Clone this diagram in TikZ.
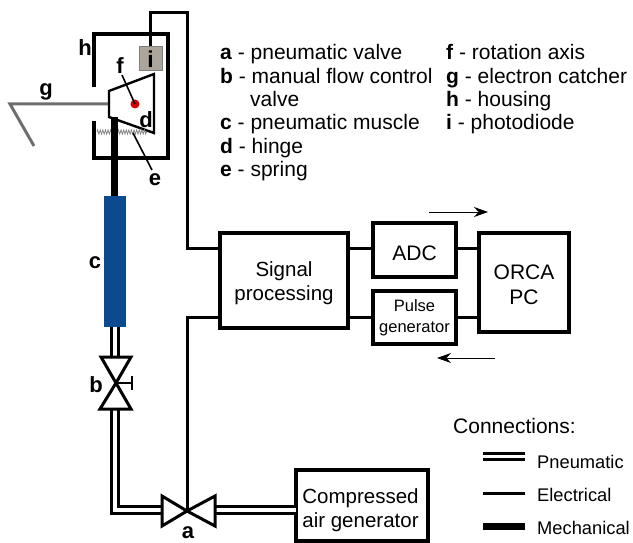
\documentclass[tikz,border=0pt]{standalone}
\usepackage{fontspec}
\setmainfont{Liberation Sans}
\usetikzlibrary{arrows.meta,decorations.pathmorphing}

\definecolor{musclecol}{HTML}{0B4A8E}
\definecolor{diodecol}{HTML}{ABA59C}
\definecolor{catchercol}{HTML}{6E6E6E}

\newcommand{\lift}[1]{\rule{0pt}{#1pt}}

\tikzset{
  blockbox/.style={draw, line width=3.2pt, inner sep=0pt, outer sep=0pt, align=center, font=\fontsize{20.5}{24}\selectfont},
  electrical/.style={line width=3pt},
  pneumatic/.style={draw=black, line width=3pt, double=white, double distance=3.1pt},
  mechanical/.style={line width=7pt},
  flowarrow/.style={line width=1pt, -{Stealth[length=14pt,width=10pt]}},
  valveline/.style={line width=3pt, line join=miter},
  partlabel/.style={inner sep=0pt, font=\fontsize{22}{24}\selectfont\bfseries},
  keytext/.style={inner sep=0pt, anchor=base west, font=\fontsize{21}{24}\selectfont},
  legendtext/.style={inner sep=0pt, anchor=base west, font=\fontsize{18.3}{22}\selectfont}
}

\begin{document}
\begin{tikzpicture}[x=1pt, y=-1pt]
  \useasboundingbox (0,0) rectangle (633,543);

  \node[blockbox, minimum width=128pt, minimum height=95pt] (signal) at (284,280.5) {\lift{21}Signal\\processing};
  \node[blockbox, minimum width=83pt, minimum height=54pt, font=\fontsize{21}{24}\selectfont] (adc) at (414.5,250) {\lift{21}ADC};
  \node[blockbox, minimum width=83pt, minimum height=53pt, font=\fontsize{16.5}{20.5}\selectfont] (pulse) at (414.5,317.5) {Pulse\\generator};
  \node[blockbox, minimum width=90pt, minimum height=99pt, font=\fontsize{21}{25}\selectfont] (orca) at (524,282.5) {\lift{20}ORCA\\PC};
  \node[blockbox, minimum width=132pt, minimum height=71pt] (compressor) at (362,505.5) {\lift{25}Compressed\hspace*{3pt}\\air generator\hspace*{3pt}};
  \node[draw=black!50, fill=diodecol, line width=1pt, minimum width=23pt, minimum height=24pt, inner sep=0pt, font=\fontsize{23}{24}\selectfont\bfseries] (photodiode) at (150.5,59) {i};
  \node[fill=musclecol, minimum width=22pt, minimum height=131pt, inner sep=0pt, outer sep=0pt] (muscle) at (115,261.5) {};

  \coordinate (wiretop) at (187,13);
  \coordinate (sigtop) at (220,248);
  \coordinate (sigbot) at (220,317);
  \coordinate (valvea) at (187,511);
  \coordinate (valveb) at (116,383);
  \coordinate (valvebin) at (115,357);
  \coordinate (valvebout) at (115,409);
  \coordinate (valveaout) at (162,510);
  \coordinate (valveain) at (215,510);
  \coordinate (armtop) at (114.5,117);

  % housing and rotating part
  \draw[line width=3.2pt] (94,87) -- (94,34) -- (168,34) -- (168,158) -- (94,158) -- (94,121);
  \draw[line width=2.4pt, line join=miter] (109,91) -- (154,74) -- (154,133) -- (109,117) -- cycle;
  \draw[catchercol, line width=3pt] (108,104) -- (10,104) -- (34,146);
  \draw[black!50, line width=0.7pt, decorate, decoration={zigzag, segment length=2.6pt, amplitude=2.2pt}] (97,132) -- (147,132);
  \fill[red!85!black] (135,104) circle (4.5);
  \draw[line width=1.6pt] (122,75) -- (135,104);
  \draw[line width=1.6pt] (133,133) -- (152,170);

  % connections
  \draw[electrical] (photodiode.north) |- (wiretop) |- (sigtop);
  \draw[electrical] (sigbot) -| (valvea);
  \draw[electrical] (signal.east |- sigtop) -- (adc.west |- sigtop);
  \draw[electrical] (signal.east |- sigbot) -- (pulse.west |- sigbot);
  \draw[electrical] (adc.east |- sigtop) -- (orca.west |- sigtop);
  \draw[electrical] (pulse.east |- sigbot) -- (orca.west |- sigbot);
  \draw[mechanical] (armtop) -- (armtop |- muscle.north);
  \draw[pneumatic] (muscle.south) -- (valvebin);
  \draw[pneumatic] (valvebout) |- (valveaout);
  \draw[pneumatic] (valveain) -- (valveain -| compressor.west);

  % valves
  \draw[valveline] (valveb) -- (101,357) -- (131,357) -- cycle;
  \draw[valveline] (valveb) -- (100,409) -- (131,409) -- cycle;
  \draw[valveline, line width=2.4pt] (valveb) -- (132,383) (132,376) -- (132,390);
  \draw[valveline] (valvea) -- (162,496) -- (162,526) -- cycle;
  \draw[valveline] (valvea) -- (215,496) -- (215,526) -- cycle;

  % part labels
  \node[partlabel] (labelh) at (85,48) {h};
  \node[partlabel] (labelf) at (120,66) {f};
  \node[partlabel] (labelg) at (46,92) {g};
  \node[partlabel] (labeld) at (146,120) {d};
  \node[partlabel] (labele) at (155,180) {e};
  \node[partlabel] (labelc) at (95,263) {c};
  \node[partlabel] (labelb) at (96,385) {b};
  \node[partlabel] (labela) at (188,533) {a};

  % key
  \foreach \name/\py/\letter/\words in {keya/60/a/pneumatic valve, keyb/83.5/b/manual flow control, keyc/130/c/pneumatic muscle, keyd/153.5/d/hinge, keye/177/e/spring}
    \node[keytext] (\name) at (220,\py) {\textbf{\letter} - \words};
  \node[keytext] (keyb2) at (250,107) {valve};
  \foreach \name/\py/\letter/\words in {keyf/60/f/rotation axis, keyg/83.5/g/electron catcher, keyh/107/h/housing, keyi/130/i/photodiode}
    \node[keytext] (\name) at (446,\py) {\textbf{\letter} - \words};

  % signal direction
  \coordinate (upstart) at (429,212);
  \coordinate (upend) at (488,212);
  \coordinate (downstart) at (495,358);
  \coordinate (downend) at (437,358);
  \draw[flowarrow] (upstart) -- (upend);
  \draw[flowarrow] (downstart) -- (downend);

  % legend
  \node[keytext] (legendtitle) at (453,433) {Connections:};
  \coordinate (pneuL) at (483,456.5);
  \coordinate (pneuR) at (525,456.5);
  \coordinate (elecL) at (483,493);
  \coordinate (elecR) at (525,493);
  \coordinate (mechL) at (483,526);
  \coordinate (mechR) at (525,526);
  \draw[pneumatic] (pneuL) -- (pneuR);
  \draw[electrical] (elecL) -- (elecR);
  \draw[mechanical] (mechL) -- (mechR);
  \node[legendtext] (legendp) at (537,468) {Pneumatic};
  \node[legendtext] (legende) at (537,501) {Electrical};
  \node[legendtext] (legendm) at (537,534) {Mechanical};
\end{tikzpicture}
\end{document}
